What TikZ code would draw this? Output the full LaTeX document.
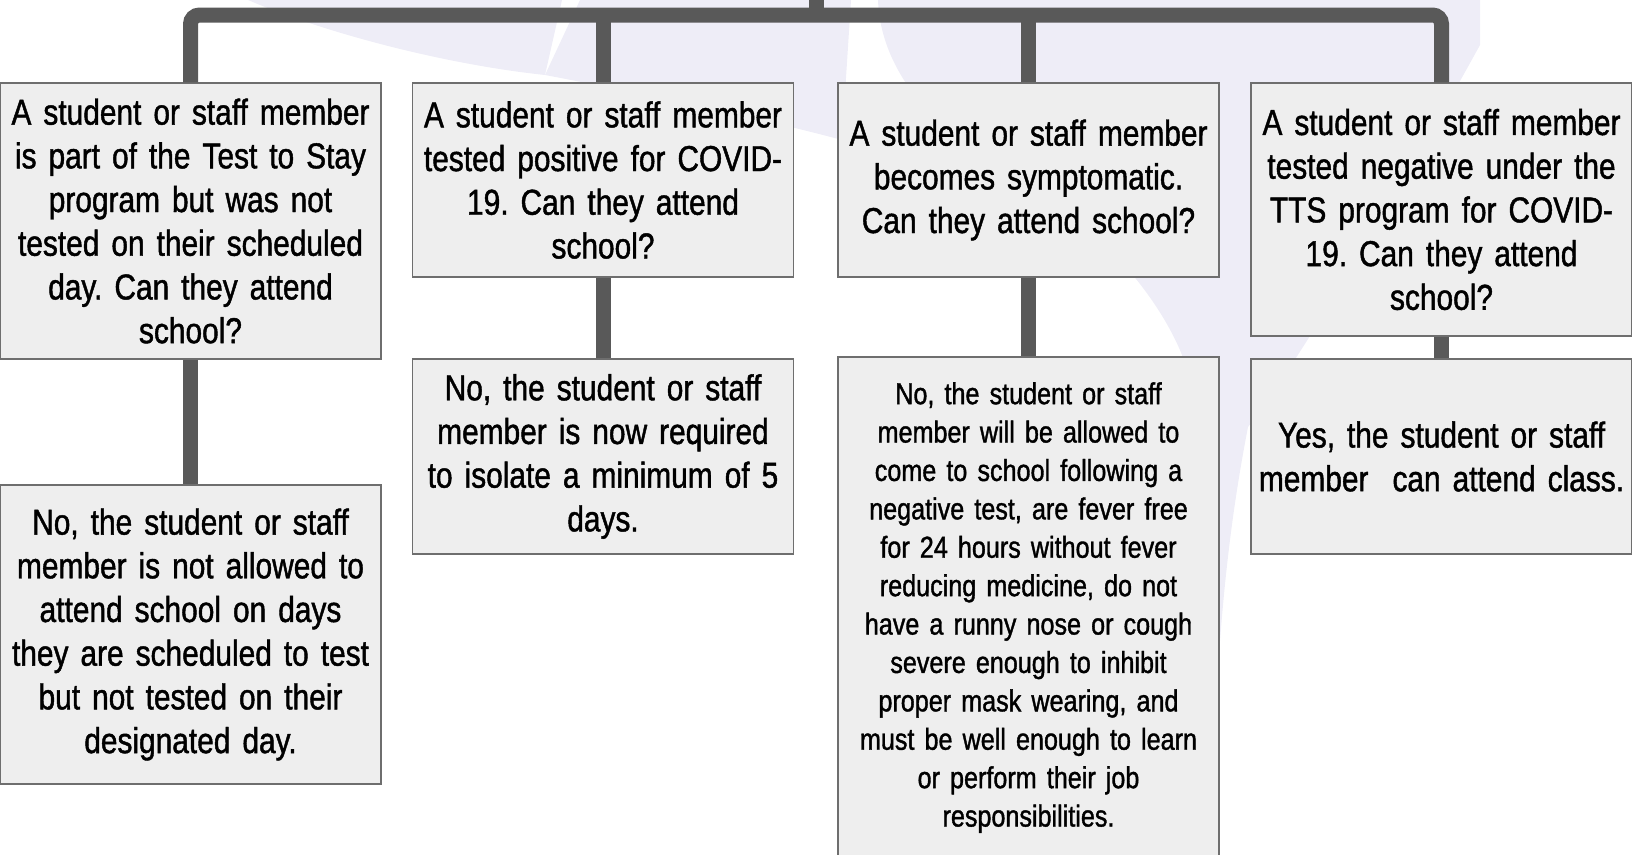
\documentclass[tikz,border=0pt]{standalone}
\usepackage{fontspec}
\setmainfont[FakeStretch=0.83,FakeBold=1.2]{Liberation Sans}
\frenchspacing
\definecolor{linegray}{HTML}{595959}
\definecolor{boxfill}{HTML}{EEEEEE}
\definecolor{boxline}{HTML}{6E6E6E}
\definecolor{logotint}{HTML}{EEEDF7}
\tikzset{
  qbox/.style={draw=boxline, line width=1.5pt, fill=boxfill, inner sep=0pt,
    minimum width=381pt, text width=375pt, align=center,
    font=\fontsize{36}{43.7}\selectfont},
  abox/.style={qbox},
  longbox/.style={qbox, font=\fontsize{30.3}{38.4}\selectfont},
  conn/.style={draw=linegray, line width=15pt}
}
\begin{document}
\begin{tikzpicture}[x=1pt,y=-1pt]
\useasboundingbox (0,0) rectangle (1632,854);

% Watermark
\fill[logotint] (248,0) .. controls (330,35) and (450,65) .. (545,75) -- (562,0) -- cycle;
\fill[logotint] (580,0) -- (545,75) .. controls (650,95) and (760,118) .. (842,140) -- (851,0) -- cycle;
\fill[logotint] (878,0) -- (1480,0) -- (1480,45) .. controls (1400,190) and (1300,360) .. (1248,427)
  .. controls (1230,520) and (1222,600) .. (1216,700)
  .. controls (1210,500) and (1195,400) .. (1182,355)
  .. controls (1160,300) and (1100,220) .. (1000,170) .. controls (920,120) and (880,60) .. (878,0) -- cycle;

% Questions
\node[qbox, minimum height=276pt] (q1) at (190.5,221) {A student or staff member\\ is part of the Test to Stay\\ program but was not\\ tested on their scheduled\\ day. Can they attend\\ school?};
\node[qbox, minimum height=194pt] (q2) at (603,180) {A student or staff member\\ tested positive for COVID-\\ 19. Can they attend\\ school?};
\node[qbox, minimum height=194pt] (q3) at (1028.5,180) {A student or staff member\\ becomes symptomatic.\\ Can they attend school?};
\node[qbox, minimum height=253pt] (q4) at (1441.5,209.5) {A student or staff member\\ tested negative under the\\ TTS program for COVID-\\ 19. Can they attend\\ school?};

% Answers
\node[abox, minimum height=299pt] (a1) at (190.5,634.5) {No, the student or staff\\ member is not allowed to\\ attend school on days\\ they are scheduled to test\\ but not tested on their\\ designated day.};
\node[abox, minimum height=195pt] (a2) at (603,456.5) {No, the student or staff\\ member is now required\\ to isolate a minimum of 5\\ days.};
\node[longbox, minimum height=501pt] (a3) at (1028.5,607.5) {No, the student or staff\\ member will be allowed to\\ come to school following a\\ negative test, are fever free\\ for 24 hours without fever\\ reducing medicine, do not\\ have a runny nose or cough\\ severe enough to inhibit\\ proper mask wearing, and\\ must be well enough to learn\\ or perform their job\\ responsibilities.};
\node[abox, minimum height=195pt] (a4) at (1441.5,456.5) {Yes, the student or staff\\ member\ \ can attend class.};

% Connectors
\coordinate (root) at (816,-2);
\coordinate (hub) at (816,15);
\draw[conn] (root) -- (hub);
\draw[conn, rounded corners=9pt] (q1.north) |- (hub) -| (q4.north);
\draw[conn] (q2.north) -- (q2.north |- hub);
\draw[conn] (q3.north) -- (q3.north |- hub);
\foreach \i in {1,...,4}
  \draw[conn] (q\i.south) -- (a\i.north);
\end{tikzpicture}
\end{document}
